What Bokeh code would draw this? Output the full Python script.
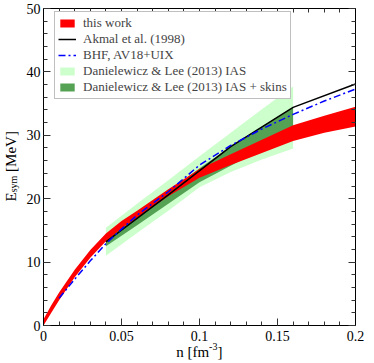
import math
from bokeh.plotting import figure
from bokeh.models import (Legend, LegendItem, LinearAxis, SingleIntervalTicker, Range1d,
                          CustomJSTickFormatter, ColumnDataSource)
from bokeh.core.properties import value
from bokeh.embed import file_html
from bokeh.resources import INLINE

# ---------------- data ----------------
# this work (red band)
n_this = [0.0, 0.005, 0.01, 0.02, 0.03, 0.04, 0.05, 0.06, 0.07, 0.08, 0.10, 0.12, 0.14, 0.16, 0.18, 0.20]
this_lo = [0.0, 2.0, 4.0, 7.6, 10.7, 13.3, 15.3, 17.0, 18.7, 20.4, 23.3, 25.3, 27.2, 29.1, 30.4, 31.4]
this_hi = [1.0, 3.2, 5.2, 8.8, 11.9, 14.5, 16.5, 18.1, 19.8, 21.5, 24.7, 27.0, 29.3, 31.6, 33.1, 34.5]

# Akmal et al. (1998)
n_akmal = [0.04, 0.08, 0.12, 0.16, 0.20]
e_akmal = [13.2, 20.6, 28.2, 34.4, 38.1]

# BHF, AV18+UIX
n_bhf = [0.01, 0.02, 0.03, 0.04, 0.05, 0.06, 0.08, 0.10, 0.12, 0.14, 0.16, 0.18, 0.20]
e_bhf = [4.3, 7.3, 10.2, 12.9, 15.2, 17.4, 21.1, 25.3, 28.4, 31.0, 33.3, 35.4, 37.3]

# Danielewicz & Lee (2013) IAS (light green) and IAS + skins (dark green)
n_dl = [0.04, 0.06, 0.08, 0.10, 0.12, 0.14, 0.16]
ias_lo = [11.0, 14.6, 18.1, 21.8, 24.2, 26.2, 27.9]
ias_hi = [15.4, 19.2, 22.9, 26.7, 30.4, 34.1, 37.7]
skin_lo = [12.5, 15.8, 19.2, 22.6, 25.2, 27.8, 30.2]
skin_hi = [14.0, 17.4, 21.0, 24.8, 28.2, 31.4, 34.4]

labels = ["this work", "Akmal et al. (1998)", "BHF, AV18+UIX",
          "Danielewicz & Lee (2013) IAS", "Danielewicz & Lee (2013) IAS + skins"]

# ---------------- figure ----------------
FONT = "'Liberation Serif', serif"
W, H = 372, 362
FL, FR, FT, FB = 43.0, 355.0, 8.0, 325.0   # frame edges on the page
p = figure(width=W, height=H, x_range=Range1d(0, 0.2), y_range=Range1d(0, 50),
           output_backend="svg", toolbar_location=None,
           min_border_left=int(FL), min_border_right=int(W - FR), min_border_top=int(FT),
           min_border_bottom=int(H - FB))
p.xgrid.visible = False
p.ygrid.visible = False
p.outline_line_color = "black"
p.background_fill_color = "white"
p.border_fill_color = "white"

p.xaxis.ticker = SingleIntervalTicker(interval=0.05, num_minor_ticks=5)
p.yaxis.ticker = SingleIntervalTicker(interval=10, num_minor_ticks=5)
p.xaxis.formatter = CustomJSTickFormatter(
    code="return tick.toFixed(2).replace(/0+$/, '').replace(/\\.$/, '');")

def style(ax):
    ax.major_tick_in = 7
    ax.major_tick_out = 0
    ax.minor_tick_in = 4
    ax.minor_tick_out = 0
    ax.axis_line_color = "black"
    ax.major_tick_line_color = "#333333"
    ax.minor_tick_line_color = "#333333"
    ax.major_label_text_font = FONT
    ax.major_label_text_color = "black"
    ax.major_label_text_font_size = "14px"

for ax in p.xaxis:
    style(ax)
    ax.major_label_standoff = 5
for ax in p.yaxis:
    style(ax)
    ax.major_label_standoff = 3

blank = CustomJSTickFormatter(code="return '';")
top = LinearAxis(ticker=SingleIntervalTicker(interval=0.05, num_minor_ticks=5), formatter=blank)
right = LinearAxis(ticker=SingleIntervalTicker(interval=10, num_minor_ticks=5), formatter=blank)
for ax in (top, right):
    style(ax)
    ax.major_label_standoff = 0
p.add_layout(top, "above")
p.add_layout(right, "right")

# ---------------- glyphs ----------------
src_dl = ColumnDataSource(dict(n=n_dl, ias_lo=ias_lo, ias_hi=ias_hi, skin_lo=skin_lo, skin_hi=skin_hi))
src_this = ColumnDataSource(dict(n=n_this, lo=this_lo, hi=this_hi))

r_ias = p.varea(x="n", y1="ias_lo", y2="ias_hi", source=src_dl, fill_color="#ccffcc")
r_skin = p.varea(x="n", y1="skin_lo", y2="skin_hi", source=src_dl, fill_color="#55a255")
r_this = p.varea(x="n", y1="lo", y2="hi", source=src_this, fill_color="#ff0000")
r_akmal = p.line(n_akmal, e_akmal, line_color="black", line_width=1.5)
r_bhf = p.line(n_bhf, e_bhf, line_color="#0000ff", line_width=1.5, line_dash="7 3 2 3")

legend = Legend(items=[LegendItem(label=labels[0], renderers=[r_this]),
                       LegendItem(label=labels[1], renderers=[r_akmal]),
                       LegendItem(label=labels[2], renderers=[r_bhf]),
                       LegendItem(label=labels[3], renderers=[r_ias]),
                       LegendItem(label=labels[4], renderers=[r_skin])],
                location=(11, 226), padding=3, spacing=-5,
                label_height=13, glyph_height=10, glyph_width=18, label_standoff=7,
                label_text_font=FONT, label_text_font_size="13px",
                border_line_color="#808080", border_line_width=1.5,
                background_fill_color="white", background_fill_alpha=1.0)
p.add_layout(legend)

# ---------------- axis titles (text drawn at overlay level, outside the frame) ----------------
def dx(px):
    return (px - FL) / (FR - FL) * 0.2
def dy(py):
    return (FB - py) / (FB - FT) * 50.0

ytitle_text = ["E", "sym", "[MeV]"]
ytitle_size = ["15px", "10px", "15px"]
ytitle_x = [dx(10.5), dx(13.0), dx(10.5)]
ytitle_y = [dy(201.0), dy(191.8), dy(171.4)]
p.text(x=ytitle_x, y=ytitle_y, text=ytitle_text, text_font_size=ytitle_size,
       angle=math.pi / 2, text_font=value(FONT), text_color="black",
       text_baseline=value("alphabetic"), text_align=value("left"), level="overlay")

xtitle_text = ["n [fm", "-3", "]"]
xtitle_size = ["15px", "10px", "15px"]
xtitle_align = ["right", "left", "left"]
xtitle_x = [dx(208.6), dx(208.6), dx(217.0)]
xtitle_y = [dy(351.0), dy(345.5), dy(351.0)]
p.text(x=xtitle_x, y=xtitle_y, text=xtitle_text, text_font_size=xtitle_size,
       text_align=xtitle_align, text_font=value(FONT), text_color="black",
       text_baseline=value("alphabetic"), level="overlay")

open("out.html", "w").write(file_html(p, INLINE))
